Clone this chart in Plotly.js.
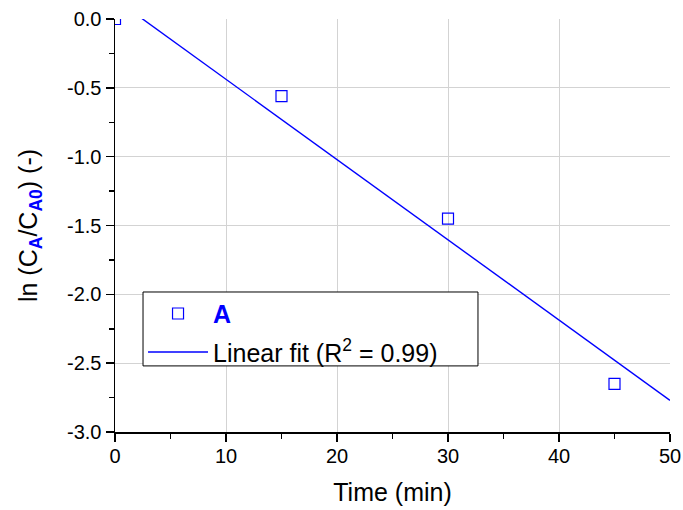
<!DOCTYPE html>
<html>
<head>
<meta charset="utf-8">
<script src="https://cdn.plot.ly/plotly-3.0.1.min.js"></script>
<style>html,body{margin:0;padding:0;background:#fff;}#chart{width:683px;height:510px;}</style>
</head>
<body>
<div id="chart"></div>
<script>
// Data
const timeMin = [0, 15, 30, 45];
const lnRatioA = [0, -0.56, -1.45, -2.65];
const fitX = [0, 50];
const fitY = [0.145, -2.77];
const xTicks = [0, 10, 20, 30, 40, 50];
const xTickText = ["0", "10", "20", "30", "40", "50"];
const yTicks = [0, -0.5, -1, -1.5, -2, -2.5, -3];
const yTickText = ["0.0", "-0.5", "-1.0", "-1.5", "-2.0", "-2.5", "-3.0"];

const fontFam = '"Liberation Sans", Arial, sans-serif';
const sub = t => '<sub><span style="color:#0000ff;font-weight:bold">' + t + '</span></sub>';

const traces = [
  {
    x: timeMin, y: lnRatioA, type: 'scatter', mode: 'markers',
    name: '<b><span style="color:#0000ff">A</span></b>',
    legendgroup: 'g1',
    marker: {symbol: 'square-open', size: 11, color: '#0000ff', line: {width: 1.2, color: '#0000ff'}},
    cliponaxis: true
  },
  {
    x: fitX, y: fitY, type: 'scatter', mode: 'lines',
    name: 'Linear fit (R<sup>2</sup> = 0.99)',
    legendgroup: 'g2',
    line: {color: '#0000ff', width: 1.4}
  }
];

const layout = {
  width: 683, height: 510,
  margin: {l: 115, r: 13, t: 19, b: 78},
  paper_bgcolor: '#fff', plot_bgcolor: '#fff',
  font: {family: fontFam, color: '#000', size: 20},
  showlegend: true,
  legend: {
    x: 0.0505, y: 0.342, xanchor: 'left', yanchor: 'top',
    bgcolor: 'rgba(0,0,0,0)', borderwidth: 0,
    font: {size: 25, family: fontFam, color: '#000'},
    itemwidth: 60,
    tracegroupgap: 3
  },
  shapes: [
    {type: 'rect', xref: 'paper', yref: 'paper', x0: 0.0505, x1: 0.654, y0: 0.160, y1: 0.339,
     line: {color: '#000', width: 1}, fillcolor: '#fff', layer: 'above'}
  ],
  xaxis: {
    range: [0, 50], tickvals: xTicks, ticktext: xTickText,
    showline: true, linecolor: '#000', linewidth: 1.5,
    ticks: 'outside', ticklen: 8, tickwidth: 1.5, tickcolor: '#000',
    minor: {dtick: 5, ticks: 'outside', ticklen: 5, tickwidth: 1.5, tickcolor: '#000', showgrid: false},
    showgrid: true, gridcolor: '#d3d3d3', gridwidth: 1,
    zeroline: false,
    tickfont: {size: 20, family: fontFam},
    ticklabelstandoff: -3,
    title: {text: 'Time (min)', font: {size: 25, family: fontFam}, standoff: 18}
  },
  yaxis: {
    range: [-3, 0], tickvals: yTicks, ticktext: yTickText,
    showline: true, linecolor: '#000', linewidth: 1.5,
    ticks: 'outside', ticklen: 8, tickwidth: 1.5, tickcolor: '#000',
    minor: {dtick: 0.25, ticks: 'outside', ticklen: 5, tickwidth: 1.5, tickcolor: '#000', showgrid: false},
    showgrid: true, gridcolor: '#d3d3d3', gridwidth: 1,
    zeroline: false,
    tickfont: {size: 20, family: fontFam},
    title: {text: 'ln (C' + sub('A') + '/C' + sub('A0') + ') (-)', font: {size: 25, family: fontFam}, standoff: 22}
  }
};

Plotly.newPlot('chart', traces, layout, {displayModeBar: false, staticPlot: true});
</script>
</body>
</html>
